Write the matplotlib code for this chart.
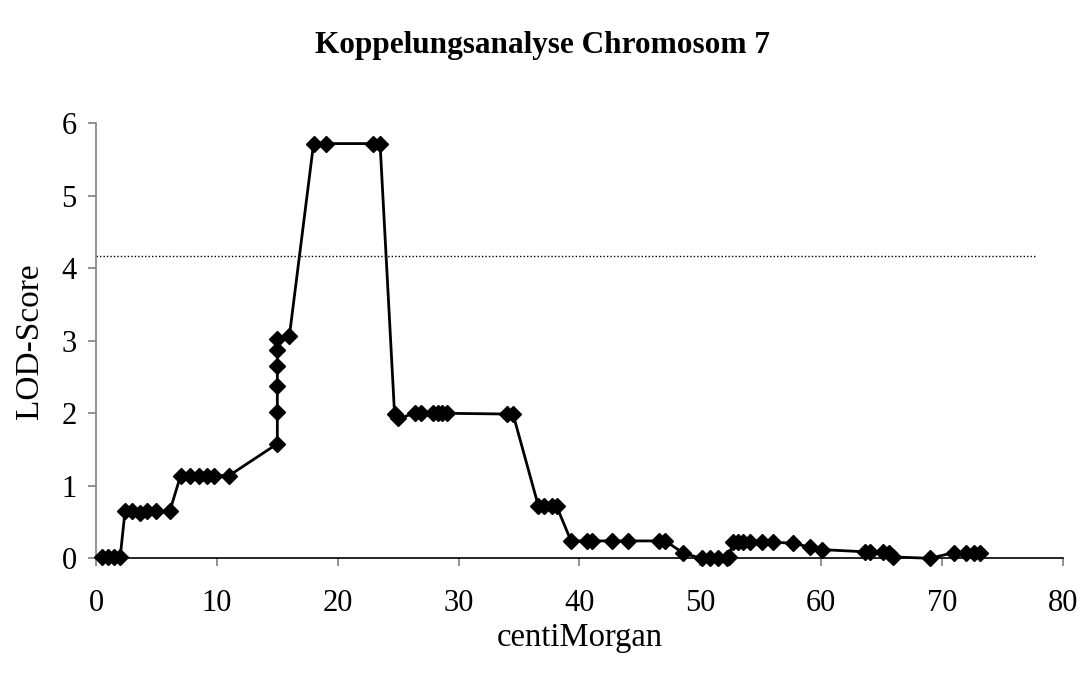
import matplotlib
matplotlib.use("Agg")
import matplotlib.pyplot as plt

# Data (centiMorgan, LOD-Score)
cm = [0.5, 1.0, 1.5, 2.0, 2.4, 3.0, 3.6, 4.2, 5.0, 6.1,
      7.0, 7.8, 8.5, 9.2, 9.8, 11.0,
      15.0, 15.0, 15.0, 15.0, 15.0, 15.0, 16.0,
      18.0, 19.0, 22.9, 23.5,
      24.7, 25.0, 26.4, 26.9, 27.9, 28.3, 28.6, 29.0, 34.0, 34.5,
      36.6, 37.1, 37.7, 38.1,
      39.3, 40.6, 41.0, 42.7, 44.0, 46.6, 47.1, 48.6,
      50.1, 50.8, 51.5, 52.2, 52.4,
      52.7, 53.1, 53.5, 54.1, 55.1, 56.0, 57.7, 59.1, 60.1,
      63.6, 64.0, 65.1, 65.6, 65.9, 69.0, 71.0, 72.0, 72.6, 73.1]
lod = [0.02, 0.02, 0.02, 0.02, 0.65, 0.65, 0.63, 0.65, 0.65, 0.65,
       1.14, 1.14, 1.14, 1.14, 1.14, 1.14,
       1.58, 2.02, 2.37, 2.65, 2.87, 3.02, 3.07,
       5.72, 5.72, 5.72, 5.72,
       1.99, 1.93, 2.0, 2.0, 2.0, 2.0, 2.0, 2.0, 1.99, 1.99,
       0.72, 0.72, 0.72, 0.72,
       0.24, 0.24, 0.24, 0.24, 0.24, 0.24, 0.24, 0.07,
       0.0, 0.0, 0.0, 0.0, 0.02,
       0.22, 0.22, 0.22, 0.22, 0.22, 0.22, 0.21, 0.15, 0.12,
       0.09, 0.09, 0.09, 0.07, 0.02, 0.0, 0.08, 0.07, 0.07, 0.07]

threshold = 4.17
threshold_x = [0, 77.7]
x_ticks = [0, 10, 20, 30, 40, 50, 60, 70, 80]
y_ticks = [0, 1, 2, 3, 4, 5, 6]

plt.rcParams['font.family'] = ['Liberation Serif', 'DejaVu Serif']

fig = plt.figure(figsize=(10.85, 6.77), dpi=100)
ax = fig.add_axes([0.0885, 0.1753, 0.8912, 0.6426])

ax.plot(threshold_x, [threshold, threshold], color='black', lw=1.0,
        linestyle=(0, (1, 1.5)), zorder=2)
ax.plot(cm, lod, color='black', lw=2.0, marker='D', markersize=8.5,
        markerfacecolor='black', markeredgecolor='black', zorder=3,
        clip_on=False)

ax.set_xlim(0, 80)
ax.set_ylim(0, 6)
ax.set_xticks(x_ticks)
ax.set_yticks(y_ticks)
ax.tick_params(axis='both', labelsize=22, direction='out', length=6,
               width=1.2, color='#808080')
ax.tick_params(axis='x', pad=16)
ax.tick_params(axis='y', pad=8)

for s in ['top', 'right']:
    ax.spines[s].set_visible(False)
ax.spines['left'].set_color('#808080')
ax.spines['left'].set_linewidth(1.2)
ax.spines['bottom'].set_color('black')
ax.spines['bottom'].set_linewidth(1.2)

ax.set_xlabel('centiMorgan', fontsize=23.5, labelpad=3)
ax.set_ylabel('LOD-Score', fontsize=24, labelpad=12)

fig.text(0.5, 0.933, 'Koppelungsanalyse Chromosom 7', ha='center', va='center',
         fontsize=22.5, fontweight='bold')

fig.savefig('out.png', dpi=100, facecolor='white')
